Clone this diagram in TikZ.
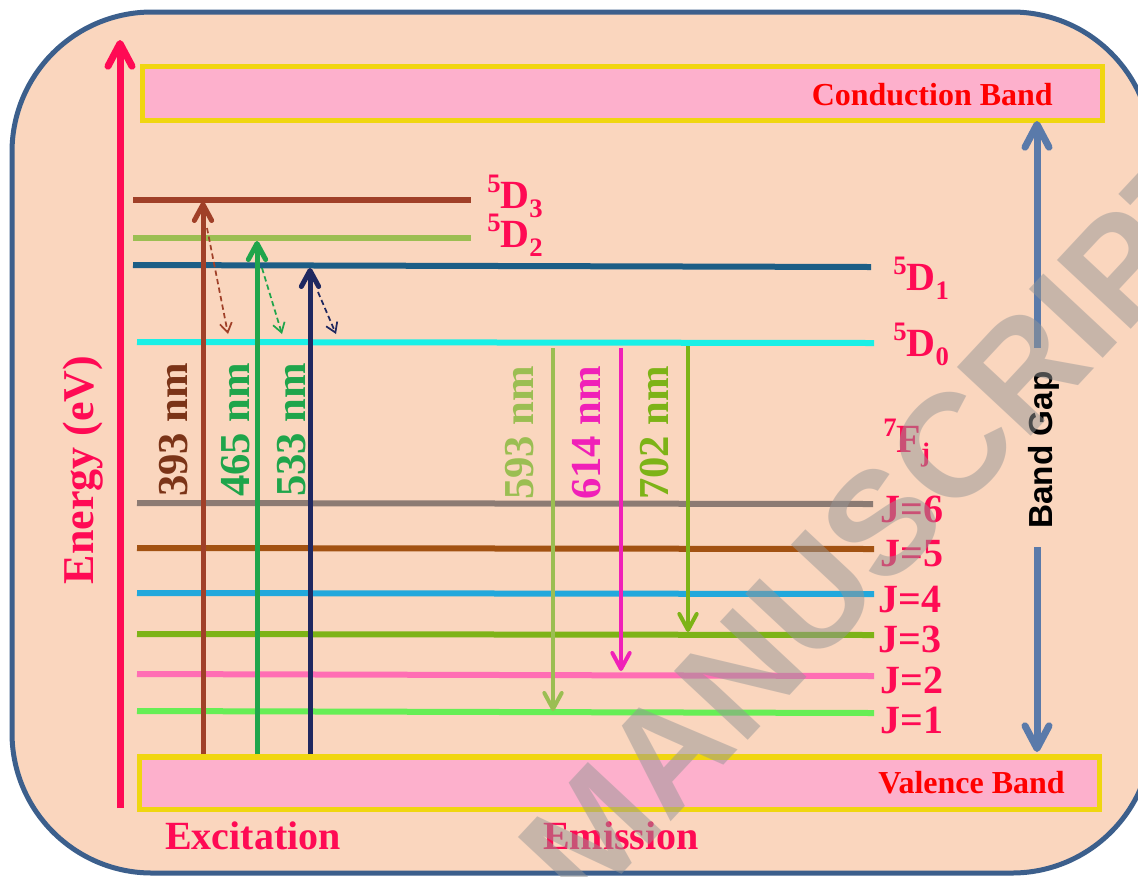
\documentclass[tikz,border=0pt]{standalone}
\usepackage{fontspec}
\setmainfont{Liberation Serif}
\newfontfamily\arialfam{Liberation Sans}
\usetikzlibrary{arrows.meta}
\definecolor{crim}{RGB}{255,10,84}
\definecolor{peach}{RGB}{250,214,190}
\definecolor{frame}{RGB}{60,95,140}
\definecolor{bandpink}{RGB}{253,176,204}
\definecolor{bandyel}{RGB}{240,214,16}
\definecolor{cDiii}{RGB}{160,64,40}
\definecolor{cDii}{RGB}{155,190,82}
\definecolor{cDi}{RGB}{28,94,134}
\definecolor{cD0}{RGB}{25,240,230}
\definecolor{cJvi}{RGB}{140,123,115}
\definecolor{cJv}{RGB}{162,82,18}
\definecolor{cJiv}{RGB}{34,168,220}
\definecolor{cJiii}{RGB}{125,179,23}
\definecolor{cJii}{RGB}{255,110,180}
\definecolor{cJi}{RGB}{102,238,85}
\definecolor{brtext}{RGB}{123,52,24}
\definecolor{grn}{RGB}{31,165,75}
\definecolor{navy}{RGB}{31,40,96}
\definecolor{mag}{RGB}{240,32,184}
\definecolor{gapblue}{RGB}{90,122,170}
\definecolor{wmgray}{RGB}{150,150,150}
\newcommand{\upsc}[1]{\raisebox{0.4em}{\fontsize{20}{20}\selectfont #1}}
\newcommand{\dnsc}[1]{\raisebox{-0.24em}{\fontsize{20}{20}\selectfont #1}}
\begin{document}
\begin{tikzpicture}[x=0.75pt,y=-0.75pt,
  level/.style={line width=4.5pt},
  band/.style={draw=bandyel, line width=4.1pt, fill=bandpink},
  bandtext/.style={text=red, font=\fontsize{24}{26}\selectfont\bfseries, inner sep=0pt, anchor=base east},
  lbl/.style={text=crim, font=\fontsize{30}{32}\selectfont\bfseries, inner sep=0pt, anchor=base west},
  nmlbl/.style={font=\fontsize{32}{34}\selectfont\bfseries, inner sep=0pt, rotate=90, anchor=base},
  bigtext/.style={text=crim, font=\fontsize{30}{32}\selectfont\bfseries, inner sep=0pt, anchor=base},
  exarrow/.style={line width=3.75pt, -{Straight Barb[length=12pt,width=13pt,round]}},
  emarrow/.style={line width=3pt, -{Straight Barb[length=12pt,width=13pt,round]}},
  relax/.style={line width=1.3pt, dash pattern=on 4pt off 2.5pt, -{Straight Barb[length=7pt,width=9pt]}},
  gaparrow/.style={draw=gapblue, line width=5.25pt, -{Straight Barb[length=17pt,width=18pt,round]}}
]
\useasboundingbox (0,0) rectangle (1138,876);
\fill[white] (0,0) rectangle (1138,876);
\clip (0,0) rectangle (1138,876);
% frame
\draw[draw=frame, line width=3.75pt, fill=peach, rounded corners=105pt] (12,12) rectangle (1152,873);
% bands
\draw[band] (142.75,66.75) rectangle (1102.25,120.25);
\draw[band] (139.75,756.75) rectangle (1099.25,809.25);
\node[bandtext] (cb) at (1053,105) {Conduction Band};
\node[bandtext] (vb) at (1065,793) {Valence Band};
% energy axis
\coordinate (eBot) at (120,808);
\coordinate (eTop) at (120,40);
\draw[draw=crim, line width=5.25pt, -{Straight Barb[length=17pt,width=18pt,round]}] (eBot) -- (eTop);
\node[text=crim, font=\fontsize{33}{35}\selectfont\bfseries, inner sep=0pt, rotate=90, anchor=base] (energy) at (93,470) {Energy (eV)};
% levels
\coordinate (d3L) at (133,200); \coordinate (d3R) at (471,200);
\coordinate (d2L) at (133,238); \coordinate (d2R) at (471,238);
\coordinate (d1L) at (133,265); \coordinate (d1R) at (871,267);
\coordinate (d0L) at (137,342); \coordinate (d0R) at (874,343);
\coordinate (j6L) at (137,503); \coordinate (j6R) at (873,504);
\coordinate (j5L) at (137,548); \coordinate (j5R) at (874,549);
\coordinate (j4L) at (137,593); \coordinate (j4R) at (874,594);
\coordinate (j3L) at (137,634); \coordinate (j3R) at (874,635);
\coordinate (j2L) at (137,674); \coordinate (j2R) at (874,676);
\coordinate (j1L) at (137,711); \coordinate (j1R) at (874,713);
\draw[level, cDiii] (d3L) -- (d3R);
\draw[level, cDii] (d2L) -- (d2R);
\draw[level, cDi] (d1L) -- (d1R);
\draw[level, cD0] (d0L) -- (d0R);
\draw[level, cJvi] (j6L) -- (j6R);
\draw[level, cJv] (j5L) -- (j5R);
\draw[level, cJiv] (j4L) -- (j4R);
\draw[level, cJiii] (j3L) -- (j3R);
\draw[level, cJii] (j2L) -- (j2R);
\draw[level, cJi] (j1L) -- (j1R);
% level labels
\node[lbl] (l5d3) at (487,208) {\upsc{5}D\dnsc{3}};
\node[lbl] (l5d2) at (487,247) {\upsc{5}D\dnsc{2}};
\node[lbl] (l5d1) at (893,290) {\upsc{5}D\dnsc{1}};
\node[lbl] (l5d0) at (893,356) {\upsc{5}D\dnsc{0}};
\node[lbl] (l7fj) at (883,452) {\upsc{7}F\dnsc{j}};
\node[lbl] (lj6) at (880,522) {J=6};
\node[lbl] (lj5) at (880,566) {J=5};
\node[lbl] (lj4) at (878,612) {J=4};
\node[lbl] (lj3) at (878,652) {J=3};
\node[lbl] (lj2) at (880,693) {J=2};
\node[lbl] (lj1) at (880,733) {J=1};
% excitation arrows
\coordinate (x1b) at (203,754); \coordinate (x1t) at (203,202);
\coordinate (x2b) at (257,754); \coordinate (x2t) at (257,241);
\coordinate (x3b) at (310,754); \coordinate (x3t) at (310,268);
\draw[exarrow, cDiii] (x1b) -- (x1t);
\draw[exarrow, grn] (x2b) -- (x2t);
\draw[exarrow, navy] (x3b) -- (x3t);
% relaxation
\coordinate (r1a) at (207,228); \coordinate (r1b) at (228,334);
\coordinate (r2a) at (262,268); \coordinate (r2b) at (282,334);
\coordinate (r3a) at (318,292); \coordinate (r3b) at (336,334);
\draw[relax, cDiii] (r1a) -- (r1b);
\draw[relax, grn] (r2a) -- (r2b);
\draw[relax, navy] (r3a) -- (r3b);
% emission arrows
\coordinate (m1t) at (553,348); \coordinate (m1b) at (553,711);
\coordinate (m2t) at (621,348); \coordinate (m2b) at (621,671);
\coordinate (m3t) at (688,346); \coordinate (m3b) at (688,632);
\draw[emarrow, cDii] (m1t) -- (m1b);
\draw[emarrow, mag] (m2t) -- (m2b);
\draw[emarrow, cJiii] (m3t) -- (m3b);
% wavelength labels
\node[nmlbl, text=brtext] (n393) at (187,430) {393 nm};
\node[nmlbl, text=grn] (n465) at (249,430) {465 nm};
\node[nmlbl, text=grn] (n533) at (305,430) {533 nm};
\node[nmlbl, text=cDii] (n593) at (533,433) {593 nm};
\node[nmlbl, text=mag] (n614) at (600,433) {614 nm};
\node[nmlbl, text=cJiii] (n702) at (668,433) {702 nm};
% band gap
\coordinate (g1a) at (1037,348); \coordinate (g1b) at (1037,121);
\coordinate (g2a) at (1037,547); \coordinate (g2b) at (1037,752);
\draw[gaparrow] (g1a) -- (g1b);
\draw[gaparrow] (g2a) -- (g2b);
\node[font=\arialfam\bfseries\fontsize{25}{27}\selectfont, rotate=90, anchor=base, inner sep=0pt, text=black] (bgap) at (1052,450) {Band Gap};
% bottom labels
\node[bigtext] (exc) at (253,849) {Excitation};
\node[bigtext] (emi) at (621,849) {Emission};
% watermark
\node[font=\arialfam\bfseries\fontsize{110}{110}\selectfont, text=wmgray, text opacity=0.5, rotate=47, inner sep=0pt] (wm) at (882,522) {MANUSCRIPT};
\end{tikzpicture}
\end{document}
